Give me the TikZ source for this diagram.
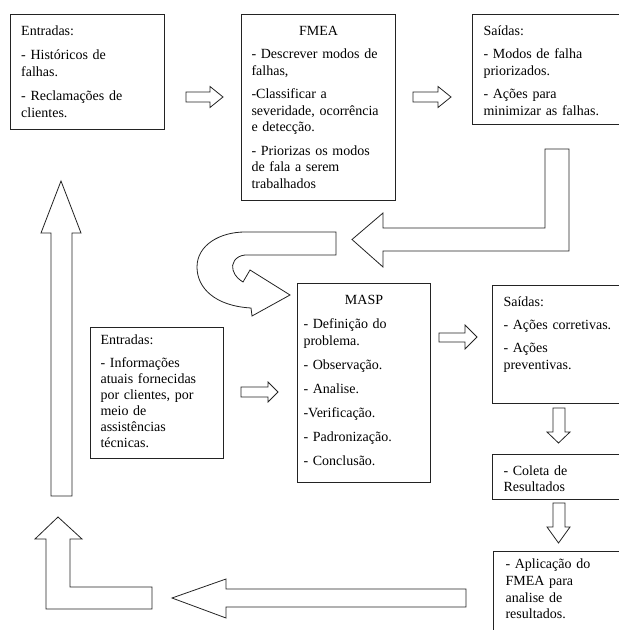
\documentclass[tikz,border=0pt]{standalone}
\usepackage{fontspec}
\setmainfont{Liberation Serif}
\definecolor{linha}{RGB}{35,35,35}

\begin{document}
\begin{tikzpicture}[x=0.75pt,y=-0.75pt,
    caixa/.style={draw=linha,line width=0.8pt,anchor=north west,align=left,
      inner xsep=8pt,inner ysep=6.5pt,text height=9pt,font=\fontsize{10.5}{13}\selectfont},
    seta/.style={draw=linha,line width=0.6pt,line join=miter}]
  \useasboundingbox (0,0) rectangle (618,630);

  % caixas
  \node[caixa,text width=99.5pt,text depth=64.25pt] (ent1) at (10,14)
    {Entradas:\\[5pt]- Históricos de\\falhas.\\[5pt]- Reclamações de\\clientes.};
  \node[caixa,inner xsep=7.5pt,text width=100.5pt,text depth=117.5pt,font=\fontsize{10.5}{12.5}\selectfont] (fmea) at (241,14)
    {\makebox[\linewidth]{FMEA}\\[5pt]- Descrever modos de\\falhas,\\[5pt]-Classificar a\\severidade, ocorrência\\e detecção.\\[5pt]- Priorizas os modos\\de fala a serem\\trabalhados};
  \node[caixa,inner xsep=8.25pt,text width=97.5pt,text depth=60.5pt,font=\fontsize{10.5}{12.5}\selectfont] (sai1) at (472,14)
    {Saídas:\\[5pt]- Modos de falha\\priorizados.\\[5pt]- Ações para\\minimizar as falhas.};
  \node[caixa,inner xsep=4.5pt,text width=90.75pt,text depth=127.25pt] (masp) at (297,283)
    {\makebox[\linewidth]{MASP}\\[5pt]- Definição do\\problema.\\[5pt]- Observação.\\[5pt]- Analise.\\[5pt]-Verificação.\\[5pt]- Padronização.\\[5pt]- Conclusão.};
  \node[caixa,inner xsep=8.25pt,text width=82.5pt,text depth=66.5pt,font=\fontsize{10.5}{12.5}\selectfont] (sai2) at (492,285)
    {Saídas:\\[5pt]- Ações corretivas.\\[5pt]- Ações\\preventivas.};
  \node[caixa,inner xsep=7.5pt,inner ysep=4pt,text width=84.75pt,text depth=81.25pt,font=\fontsize{10.5}{12}\selectfont] (ent2) at (90,327)
    {Entradas:\\[5pt]- Informações\\atuais fornecidas\\por clientes, por\\meio de\\assistências\\técnicas.};
  \node[caixa,inner xsep=8.25pt,text width=82.5pt,text depth=11.75pt,font=\fontsize{10.5}{12}\selectfont] (coleta) at (492,454)
    {- Coleta de\\Resultados};
  \node[caixa,inner xsep=9pt,inner ysep=4pt,text width=80.25pt,text depth=49.75pt,font=\fontsize{10.5}{12.5}\selectfont] (aplic) at (493,551)
    {- Aplicação do\\FMEA para\\analise de\\resultados.};

  % setas pequenas
  \draw[seta] (186,92) -- (210,92) -- (210,86.5) -- (223,97) -- (210,107.5) -- (210,102) -- (186,102) -- cycle;
  \draw[seta] (413,92) -- (438,92) -- (438,86.5) -- (451,97) -- (438,107.5) -- (438,102) -- (413,102) -- cycle;
  \draw[seta] (241,387) -- (268,387) -- (268,382) -- (278,392) -- (268,402) -- (268,397) -- (241,397) -- cycle;
  \draw[seta] (439,333) -- (465,333) -- (465,325) -- (477,337) -- (465,349) -- (465,342) -- (439,342) -- cycle;
  \draw[seta] (553,408) -- (553,432) -- (547,432) -- (558.5,443) -- (570,432) -- (565,432) -- (565,408) -- cycle;
  \draw[seta] (553,503) -- (553,527) -- (547,527) -- (558.5,543) -- (570,527) -- (565,527) -- (565,503) -- cycle;

  % setas grandes
  \draw[seta] (569,149) -- (569,251) -- (383,251) -- (383,267) -- (352,239.5) -- (383,213) -- (383,228) -- (545,228) -- (545,149) -- cycle;
  \draw[seta] (336,232) -- (336,255) -- (245,255) .. controls (235,256) and (231,264) .. (233,270)
    .. controls (235,277) and (240,280) .. (243,282) -- (250,270) -- (290,295) -- (252,316) -- (251,308)
    .. controls (215,306) and (197,288) .. (197,267) .. controls (197,245) and (220,232) .. (245,232) -- cycle;
  \draw[seta] (466,589) -- (226,589) -- (226,579) -- (172,598) -- (226,618) -- (226,607) -- (466,607) -- cycle;
  \draw[seta] (46,609) -- (152,609) -- (152,587) -- (70,587) -- (70,539) -- (82,539) -- (58,517) -- (35,539) -- (46,539) -- cycle;
  \draw[seta] (51,496) -- (51,233) -- (41,233) -- (61,181) -- (81,233) -- (72,233) -- (72,496) -- cycle;
\end{tikzpicture}
\end{document}
